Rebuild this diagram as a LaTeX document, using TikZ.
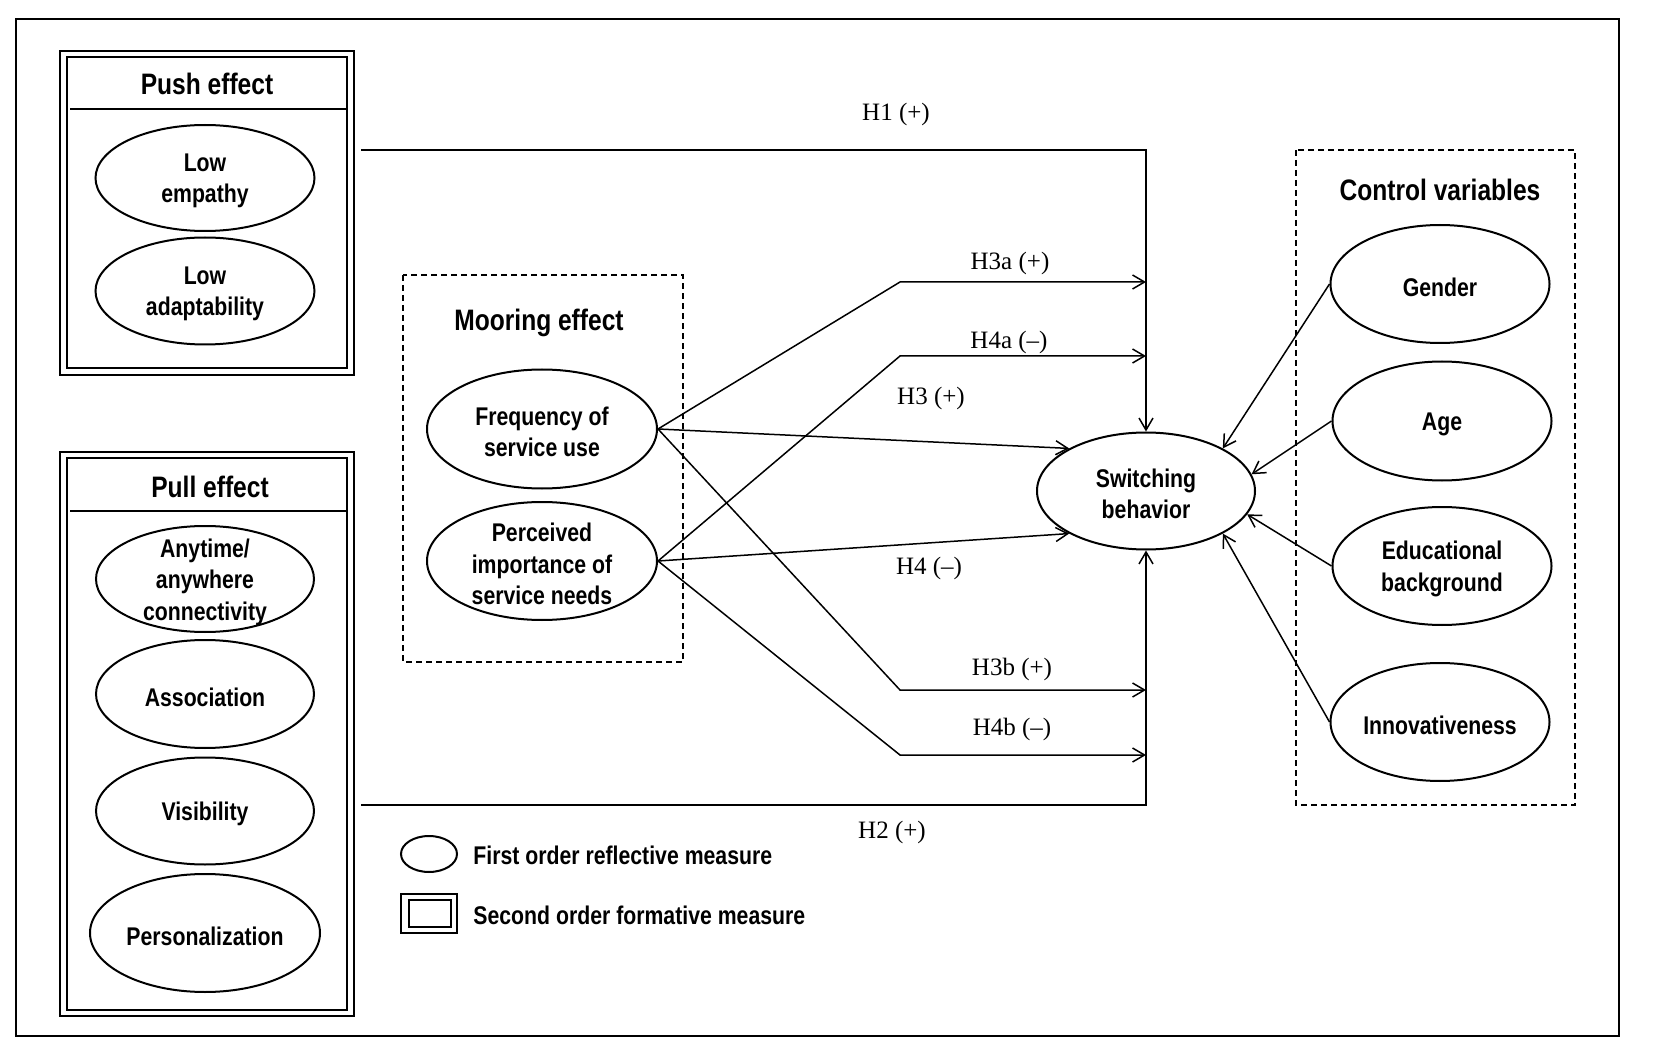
\documentclass[tikz,border=0pt]{standalone}
\usepackage{fontspec}
\setmainfont{Liberation Serif}
\newfontfamily\nar[FakeStretch=0.83]{Liberation Sans}
\usetikzlibrary{shapes.geometric,arrows.meta}
\begin{document}
\begin{tikzpicture}[x=0.5pt,y=-0.5pt,
  ell/.style={draw,ellipse,line width=1pt,inner sep=0pt},
  txt/.style={font=\nar\bfseries\fontsize{12.8}{15.8}\selectfont,align=center,inner sep=0pt},
  etxt/.style={txt,yshift=-1.5pt},
  hdr/.style={font=\nar\bfseries\fontsize{14.8}{17}\selectfont,inner sep=0pt},
  lab/.style={font=\fontsize{12.5}{15}\selectfont,inner sep=0pt},
  conn/.style={line width=0.75pt},
  arr/.style={conn,-{Straight Barb[length=6pt,width=7pt]}},
  dbox/.style={draw,line width=0.75pt,dash pattern=on 3pt off 2pt},
  box/.style={draw,line width=0.8pt}]
\useasboundingbox (0,0) rectangle (1656,1064);
\draw[line width=1pt] (16,19) rectangle (1619,1036);

% Push effect box
\draw[box] (60,51) rectangle (354,375);
\draw[box] (67,57) rectangle (347,368);
\draw[box] (70,109) -- (347,109);
\node[hdr] (pushH) at (207,84) {Push effect};
\node[ell,minimum width=109.5pt,minimum height=53pt] (emp) at (205,178) {};
\node[etxt] at (emp) {Low\\empathy};
\node[ell,minimum width=109.5pt,minimum height=53.5pt] (adp) at (205,291) {};
\node[etxt] at (adp) {Low\\adaptability};

% Pull effect box
\draw[box] (60,452) rectangle (354,1016);
\draw[box] (67,458) rectangle (347,1010);
\draw[box] (70,511) -- (347,511);
\node[hdr] (pullH) at (210,487) {Pull effect};
\node[ell,minimum width=109pt,minimum height=53pt] (any) at (205,579) {};
\node[etxt] at (any) {Anytime/\\anywhere\\connectivity};
\node[ell,minimum width=109pt,minimum height=54pt] (aso) at (205,694) {};
\node[etxt] at (aso) {Association};
\node[ell,minimum width=109pt,minimum height=53.5pt] (vis) at (205,811) {};
\node[etxt] at (vis) {Visibility};
\node[ell,minimum width=115pt,minimum height=59pt] (per) at (205,933) {};
\node[etxt] at (per) {Personalization};

% Mooring effect
\draw[dbox] (403,275) rectangle (683,662);
\node[hdr] (moorH) at (539,323) {Mooring effect};
\node[ell,minimum width=115pt,minimum height=59.5pt] (freq) at (542,429) {};
\node[etxt] at (freq) {Frequency of\\service use};
\node[ell,minimum width=115pt,minimum height=59pt] (perc) at (542,561) {};
\node[etxt] at (perc) {Perceived\\importance of\\service needs};

% Switching behavior
\node[ell,minimum width=109pt,minimum height=58.5pt] (sw) at (1146,491) {};
\node[etxt] at (sw) {Switching\\behavior};

% Control variables
\draw[dbox] (1296,150) rectangle (1575,805);
\node[hdr] (ctrlH) at (1440,190) {Control variables};
\node[ell,minimum width=109.5pt,minimum height=59pt] (gen) at (1440,284) {};
\node[etxt] at (gen) {Gender};
\node[ell,minimum width=109.5pt,minimum height=59.5pt] (age) at (1442,421) {};
\node[etxt] at (age) {Age};
\node[ell,minimum width=109.5pt,minimum height=59pt] (edu) at (1442,566) {};
\node[etxt] at (edu) {Educational\\background};
\node[ell,minimum width=109.5pt,minimum height=59pt] (inn) at (1440,722) {};
\node[etxt] at (inn) {Innovativeness};

% Legend
\node[ell,minimum width=28pt,minimum height=18pt] (legE) at (429,854) {};
\node[txt,anchor=west] (legT1) at (473,855) {First order reflective measure};
\draw[box] (401,894) rectangle (457,933);
\draw[box] (409,900) rectangle (451,927);
\node[txt,anchor=west] (legT2) at (473,915) {Second order formative measure};

% Connectors
\coordinate (h1s) at (361,150);
\coordinate (h2s) at (361,805);
\draw[arr] (h1s) -| (sw.north);
\draw[arr] (h2s) -| (sw.south);
\coordinate (k3a) at (900,282);
\coordinate (k4a) at (900,356);
\coordinate (k3b) at (900,690);
\coordinate (k4b) at (900,755);
\draw[arr] (freq.east) -- (k3a) -- (k3a -| sw.north);
\draw[arr] (perc.east) -- (k4a) -- (k4a -| sw.north);
\draw[arr] (freq.east) -- (k3b) -- (k3b -| sw.north);
\draw[arr] (perc.east) -- (k4b) -- (k4b -| sw.north);
\draw[arr] (freq.east) -- (sw.151);
\draw[arr] (perc.east) -- (sw.209);
\draw[arr] (gen.west) -- (sw.29);
\draw[arr] (age.west) -- (sw.9);
\draw[arr] (edu.west) -- (sw.-13);
\draw[arr] (inn.west) -- (sw.-29);

% Labels
\node[lab] (l1) at (896,114) {H1 (+)};
\node[lab] (l2) at (892,832) {H2 (+)};
\node[lab] (l3a) at (1010,263) {H3a (+)};
\node[lab] (l4a) at (1009,342) {H4a (–)};
\node[lab] (l3) at (931,398) {H3 (+)};
\node[lab] (l4) at (929,568) {H4 (–)};
\node[lab] (l3b) at (1012,669) {H3b (+)};
\node[lab] (l4b) at (1012,729) {H4b (–)};
\end{tikzpicture}
\end{document}
